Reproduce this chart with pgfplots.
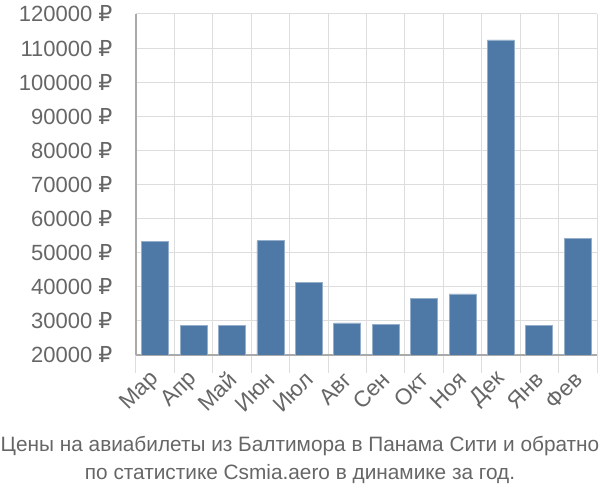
\documentclass[border=0pt]{standalone}
\usepackage{fontspec}
\setmainfont{Liberation Sans}
\newfontfamily\rubfont{DejaVu Sans}
\usepackage{pgfplots}
\pgfplotsset{compat=1.18}
\definecolor{barblue}{HTML}{4E79A7}
\definecolor{gridgray}{HTML}{DDDDDD}
\definecolor{axisgray}{HTML}{AAAAAA}
\definecolor{textgray}{HTML}{666666}
\begin{document}
\begin{tikzpicture}
\path[use as bounding box] (0,0) rectangle (600pt,500pt);
\begin{axis}[
    at={(136pt,145pt)}, anchor=south west,
    scale only axis,
    width=461pt, height=341pt,
    xmin=-0.5, xmax=11.5,
    ymin=20000, ymax=120000,
    ytick={20000,30000,...,120000},
    scaled y ticks=false,
    yticklabel={\pgfmathprintnumber[fixed,precision=0,1000 sep={},assume math mode=true]{\tick} {\rubfont ₽}},
    xtick={0,...,11},
    xticklabels={Мар,Апр,Май,Июн,Июл,Авг,Сен,Окт,Ноя,Дек,Янв,Фев},
    minor xtick={-0.5,0.5,...,11.5},
    xminorgrids, ymajorgrids,
    grid style={gridgray, line width=1pt},
    minor grid style={gridgray, line width=1pt},
    axis x line*=bottom, axis y line*=left,
    axis line style={axisgray, line width=1.2pt},
    major tick length=0pt,
    minor tick length=18pt,
    tick align=outside,
    ytick style={gridgray, line width=1pt},
    minor tick style={gridgray, line width=1pt},
    y tick label style={font=\fontsize{22}{24}\selectfont, text=textgray, xshift=-20pt},
    x tick label style={font=\fontsize{22.5}{24}\selectfont, text=textgray, rotate=45, anchor=east, xshift=-11pt, yshift=-15pt},
]
\addplot[ybar, bar width=27pt, fill=barblue, draw=barblue!60!white, line width=0.8pt] coordinates {
    (0,53300) (1,28700) (2,28700) (3,53500) (4,41200) (5,29400)
    (6,29000) (7,36700) (8,37900) (9,112400) (10,28700) (11,54200)
};
\end{axis}
\node[text=textgray, font=\fontsize{20.8}{28}\selectfont, align=center] at (300pt,40pt)
    {Цены на авиабилеты из Балтимора в Панама Сити и обратно\\по статистике Csmia.aero в динамике за год.};
\end{tikzpicture}
\end{document}
